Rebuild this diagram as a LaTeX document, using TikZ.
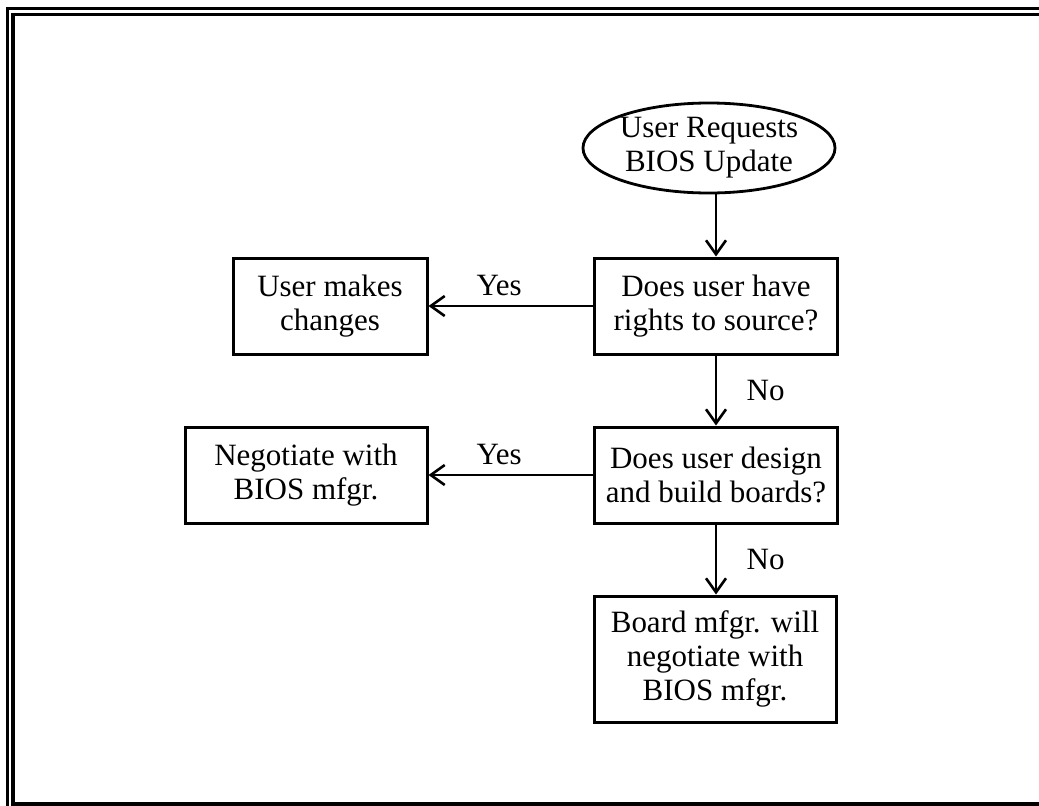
\documentclass[tikz,border=0pt]{standalone}
\usepackage{fontspec}
\setmainfont{Liberation Serif}
\usepackage{tikz}
\usetikzlibrary{arrows.meta,shapes.geometric}
\begin{document}
\begin{tikzpicture}[x=1pt, y=-1pt, every node/.style={font=\fontsize{31}{34}\selectfont, align=center},
  box/.style={draw, line width=3pt, inner sep=0pt},
  flow/.style={line width=2.6pt, -{Straight Barb[length=14pt,width=20pt]}},
  frame/.style={line width=3.2pt}]
\useasboundingbox (0,0) rectangle (1039,806);
% double frame, cut at right and bottom
\draw[frame] (1039,8.5) -- (7.5,8.5) -- (7.5,806);
\draw[frame] (1039,14.5) -- (13,14.5) -- (13,804) -- (1039,804);
% main column
\node[draw, ellipse, line width=2.8pt, minimum width=232pt, minimum height=90pt, inner sep=0pt] (req) at (709,148) {User Requests\\BIOS Update};
\node[box, minimum width=243pt, minimum height=96pt] (rights) at (716,306) {Does user have\\rights to source?};
\node[box, minimum width=243pt, minimum height=96pt] (design) at (716,475) {Does user design\\and build boards?};
\node[box, minimum width=242pt, minimum height=126pt] (board) at (715,659) {Board mfgr. will\\negotiate with\\BIOS mfgr.};
% left column
\node[box, minimum width=194pt, minimum height=96pt] (changes) at (330,306) {User makes\\changes};
\node[box, minimum width=242pt, minimum height=96pt] (nego) at (306,475) {Negotiate with\\BIOS mfgr.};
% connectors
\draw[flow] (rights.north |- req.south) -- (rights.north);
\draw[flow] (rights.west) -- (changes.east) node[pos=0.57, above=6pt] (yes1) {Yes};
\draw[flow] (rights.south) -- (design.north) node[midway, right=26pt] (no1) {No};
\draw[flow] (design.west) -- (nego.east) node[pos=0.57, above=6pt] (yes2) {Yes};
\draw[flow] (design.south) -- (board.north -| design.south) node[midway, right=26pt] (no2) {No};
\end{tikzpicture}
\end{document}
